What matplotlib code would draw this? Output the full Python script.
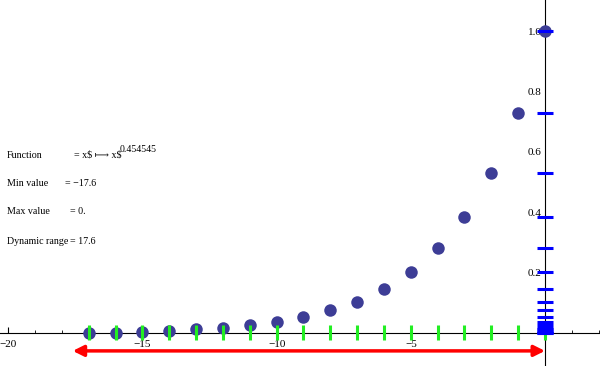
import numpy as np
import matplotlib
matplotlib.use("Agg")
import matplotlib.pyplot as plt
from matplotlib.ticker import MultipleLocator

plt.rcParams['font.family'] = ['Liberation Serif', 'DejaVu Serif', 'DejaVu Sans']

# sample positions and mapped values
xs = np.arange(0, -18, -1)
ys = [1.0, 0.728, 0.529, 0.386, 0.281, 0.202, 0.146, 0.105, 0.076, 0.053,
      0.037, 0.028, 0.019, 0.013, 0.0076, 0.004, 0.002, 0.002]
min_value = -17.6
max_value = 0.0

info_labels = ["Function", "Min value", "Max value", "Dynamic range"]
info_values = ["= x$ \u27fc x$", "= \u221217.6", "= 0.", "= 17.6"]
exponent = "0.454545"

xticks = [-20, -15, -10, -5]
yticks = [0.2, 0.4, 0.6, 0.8, 1.0]

fig = plt.figure(figsize=(6, 3.66), dpi=100)
ax = fig.add_axes([0, 0, 1, 1])
ax.set_xlim(-20.31, 2.05)
ax.set_ylim(-0.108, 1.1026)

for s in ['top', 'right']:
    ax.spines[s].set_visible(False)
ax.spines['left'].set_position(('data', 0))
ax.spines['bottom'].set_position(('data', 0))

ax.set_xticks(xticks)
ax.set_xticklabels(["\u2212%d" % -t for t in xticks])
ax.set_yticks(yticks)
ax.set_yticklabels(["%.1f" % t for t in yticks])
ax.xaxis.set_minor_locator(MultipleLocator(1))
ax.yaxis.set_minor_locator(MultipleLocator(0.05))
ax.tick_params(axis='x', direction='in', length=4, width=0.8, labelsize=8, pad=5)
ax.tick_params(axis='x', which='minor', direction='in', length=2.5, width=0.6)
ax.tick_params(axis='y', which='both', left=False, right=True, labelleft=True,
               labelright=False, direction='out', labelsize=8, pad=-1.5)
ax.tick_params(axis='y', which='major', length=4, width=0.8)
ax.tick_params(axis='y', which='minor', length=2.5, width=0.6)

# points
ax.plot(xs, ys, 'o', color='#3d3d96', markersize=9, markeredgewidth=0, zorder=3)

# green ticks at each sample
ax.vlines(xs, -0.022, 0.028, color='#22ee22', linewidth=2.2, zorder=4)

# blue ticks on the y axis
ax.hlines(ys, -0.29, 0.29, color='#0000ff', linewidth=2.2, zorder=5)

# red double arrow spanning the range
ax.annotate('', xy=(max_value, -0.058), xytext=(min_value, -0.058),
            arrowprops=dict(arrowstyle='<|-|>', color='#ff0000', lw=2.5,
                            mutation_scale=16, shrinkA=0, shrinkB=0),
            zorder=6)

# info text
rows_y = [155, 183, 212, 241]
eq_x = [74, 65, 70, 70]
for lab, val, py, ex in zip(info_labels, info_values, rows_y, eq_x):
    fig.text(7 / 600, 1 - py / 366, lab, fontsize=7.2, va='center', ha='left',
             parse_math=False)
    fig.text(ex / 600, 1 - py / 366, val, fontsize=7.2, va='center', ha='left',
             parse_math=False)
fig.text(120 / 600, 1 - 150 / 366, exponent, fontsize=7, va='center', ha='left')

fig.savefig("out.png", dpi=100)
